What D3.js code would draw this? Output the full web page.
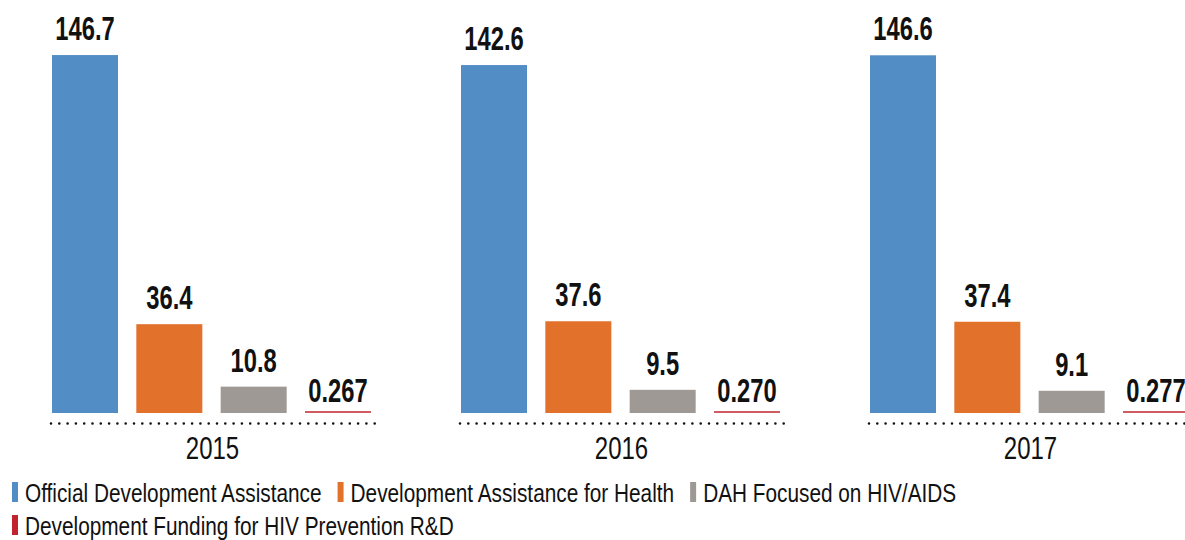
<!DOCTYPE html>
<html>
<head>
<meta charset="utf-8">
<script src="https://cdn.jsdelivr.net/npm/d3@7"></script>
<style>
  html, body { margin: 0; padding: 0; background: #fff; }
  svg { display: block; }
  text { font-family: "Liberation Sans", Arial, "DejaVu Sans", sans-serif; }
</style>
</head>
<body>
<svg id="chart" width="1185" height="540"></svg>
<script>
// ---- data ----
const years = ["2015", "2016", "2017"];
const seriesNames = [
  "Official Development Assistance",
  "Development Assistance for Health",
  "DAH Focused on HIV/AIDS",
  "Development Funding for HIV Prevention R&D"
];
const seriesColors = ["#538dc5", "#e2712c", "#9e9994", "#c0242e"];
const oda    = [146.7, 142.6, 146.6];
const dah    = [36.4, 37.6, 37.4];
const dahHiv = [10.8, 9.5, 9.1];
const prevRD = [0.267, 0.270, 0.277];
const valueLabels = [
  ["146.7", "36.4", "10.8", "0.267"],
  ["142.6", "37.6", "9.5", "0.270"],
  ["146.6", "37.4", "9.1", "0.277"]
];

const seriesValues = [oda, dah, dahHiv, prevRD];
const rows = years.map((y, i) => ({
  year: y,
  bars: seriesNames.map((s, j) => ({ series: s, idx: j, value: seriesValues[j][i], label: valueLabels[i][j] }))
}));

const svg = d3.select("#chart");

const x0 = d3.scaleBand().domain(years).range([52, 1189]).paddingInner(90 / 409).paddingOuter(0);
const x1 = d3.scaleBand().domain(seriesNames).range([0, x0.bandwidth()]).paddingInner(0.2174).paddingOuter(0);
const y = d3.scaleLinear().domain([0, 150]).range([413, 47]);
const color = d3.scaleOrdinal().domain(seriesNames).range(seriesColors);

// condensed look: horizontally compressed text
const VAL_SX = 0.72, YEAR_SX = 0.75, LEG_SX = 0.8;

const groups = svg.selectAll("g.year").data(rows).join("g")
  .attr("class", "year")
  .attr("transform", d => `translate(${x0(d.year)},0)`);

groups.selectAll("rect.bar").data(d => d.bars).join("rect")
  .attr("class", "bar")
  .attr("x", d => x1(d.series))
  .attr("width", x1.bandwidth())
  .attr("y", d => Math.min(y(d.value), y(0) - 2))
  .attr("height", d => Math.max(y(0) - y(d.value), 2))
  .attr("fill", d => color(d.series))
  .attr("opacity", d => d.idx === 3 ? 0.75 : 1);

groups.selectAll("text.val").data(d => d.bars).join("text")
  .attr("class", "val")
  .attr("transform", d => `translate(${x1(d.series) + x1.bandwidth() / 2},${y(d.value) - (d.idx === 3 ? 10 : 15)}) scale(${VAL_SX},1)`)
  .attr("text-anchor", "middle")
  .attr("font-size", 33)
  .attr("font-weight", "bold")
  .attr("fill", "#111")
  .text(d => d.label);

// dotted baseline per group
groups.append("line")
  .attr("x1", -1)
  .attr("x2", x0.bandwidth() + 7)
  .attr("y1", 423.5)
  .attr("y2", 423.5)
  .attr("stroke", "#111")
  .attr("stroke-width", 2.6)
  .attr("stroke-linecap", "round")
  .attr("stroke-dasharray", "0 8.3");

groups.append("text")
  .attr("transform", `translate(${x0.bandwidth() / 2 + 1},459) scale(${YEAR_SX},1)`)
  .attr("text-anchor", "middle")
  .attr("font-size", 32)
  .attr("fill", "#111")
  .text(d => d.year);

// legend
const legendRows = [[0, 1, 2], [3]];
legendRows.forEach((r, ri) => {
  let cx = 12;
  const baseY = 502 + ri * 33;
  r.forEach(j => {
    const g = svg.append("g");
    g.append("rect")
      .attr("x", cx).attr("y", baseY - 20)
      .attr("width", 6).attr("height", 20)
      .attr("fill", seriesColors[j]);
    const t = g.append("text")
      .attr("transform", `translate(${cx + 13},${baseY}) scale(${LEG_SX},1)`)
      .attr("font-size", 26)
      .attr("fill", "#111")
      .text(seriesNames[j]);
    cx += 13 + t.node().getComputedTextLength() * LEG_SX + 16;
  });
});
</script>
</body>
</html>
